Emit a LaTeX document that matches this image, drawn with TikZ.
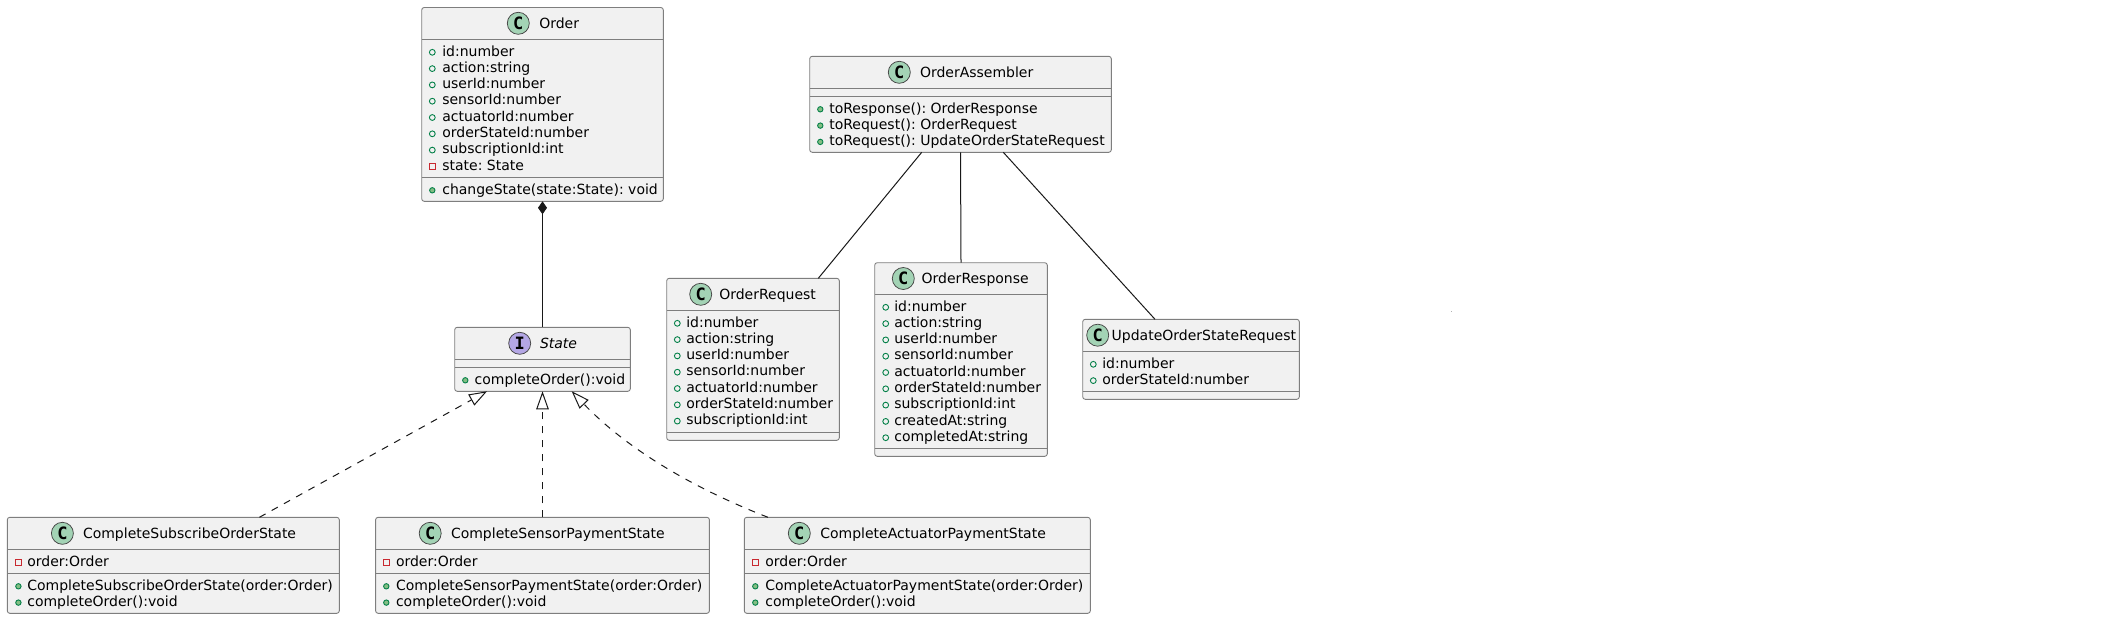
\documentclass[tikz,border=0pt]{standalone}
\usepackage{fontspec}
\setmainfont{DejaVu Sans}
\newfontfamily\glyphfont{DejaVu Sans Mono}[BoldFont=* Bold]
\usetikzlibrary{arrows.meta}
\definecolor{boxfill}{HTML}{F1F1F1}
\definecolor{ink}{HTML}{181818}
\definecolor{frame}{HTML}{7E7E7E}
\definecolor{cfill}{HTML}{A3D3B5}
\definecolor{ifill}{HTML}{B4A7E5}
\definecolor{publine}{HTML}{038048}
\definecolor{pubfill}{HTML}{84BE84}
\definecolor{privline}{HTML}{C82930}
\tikzset{
  umlbox/.style={draw=frame,fill=boxfill,line width=.9pt,rounded corners=2.5pt,inner sep=0pt,outer sep=0pt,anchor=north west},
  sepline/.style={draw=frame,line width=.9pt},
  labeltext/.style={inner sep=0pt,outer sep=0pt,anchor=base west,font=\fontsize{14}{16}\selectfont\frenchspacing,text=black},
  badge/.style={circle,draw=ink!80,line width=.75pt,minimum size=22pt,inner sep=0pt,outer sep=0pt},
  badgetext/.style={inner sep=0pt,outer sep=0pt,font=\glyphfont\bfseries\fontsize{17}{18}\selectfont,text=black},
  pubfield/.style={draw=publine,line width=.9pt,fill=none},
  pubmethod/.style={draw=publine,line width=.9pt,fill=pubfill},
  privfield/.style={draw=privline,line width=.9pt,fill=none},
  assoc/.style={draw=ink,line width=1pt},
  realize/.style={draw=ink,line width=1pt,dash pattern=on 7pt off 7pt,-{Triangle[open,length=18pt,width=12.5pt,fill=white]}},
  compose/.style={draw=ink,line width=1pt,{Diamond[length=13pt,width=9pt,fill=ink]}-},
}
% name, x1, ytop, x2, ybottom, headerline, separator
\newcommand{\classframe}[7]{%
  \pgfmathsetmacro{\bw}{#4-#2}\pgfmathsetmacro{\bh}{#5-#3}%
  \node[umlbox,minimum width=\bw pt,minimum height=\bh pt] (#1) at (#2,#3) {};
  \draw[sepline] (#2,#6) -- (#4,#6);
  \draw[sepline] (#2,#7) -- (#4,#7);
}
% name, cx, cy, fill, letter, title x, title
\newcommand{\classtitle}[8]{%
  \node[badge,fill=#4] (#1-badge) at (#2,#3) {};
  \node[badgetext] (#1-letter) at (#2,#3) {#5};
  \node[labeltext] (#1-title) at (#6,#3+5) {#8#7};
}
\newcounter{rowc}
% kind-x, text-x, baseline, text
\newcommand{\fieldrow}[4]{\stepcounter{rowc}%
  \draw[pubfield] (#1,#3-3.7) circle (2.9pt);
  \node[labeltext] (row\arabic{rowc}) at (#2,#3) {#4};
}
\newcommand{\methodrow}[4]{\stepcounter{rowc}%
  \draw[pubmethod] (#1,#3-3.7) circle (2.7pt);
  \node[labeltext] (row\arabic{rowc}) at (#2,#3) {#4};
}
\newcommand{\privrow}[4]{\stepcounter{rowc}%
  \draw[privfield] (#1-2.9,#3-6.6) rectangle (#1+2.9,#3-.8);
  \node[labeltext] (row\arabic{rowc}) at (#2,#3) {#4};
}
\begin{document}
\begin{tikzpicture}[x=1pt,y=-1pt]
\useasboundingbox (0,0) rectangle (2116,619);

% Order
\classframe{order}{421.7}{7.5}{663.3}{201.3}{39.5}{177.7}
\classtitle{order}{518.3}{23.3}{cfill}{C}{539.3}{Order}{}
\fieldrow{432.3}{442.3}{56}{id:number}
\fieldrow{432.3}{442.3}{72.3}{action:string}
\fieldrow{432.3}{442.3}{88.6}{userId:number}
\fieldrow{432.3}{442.3}{104.9}{sensorId:number}
\fieldrow{432.3}{442.3}{121.2}{actuatorId:number}
\fieldrow{432.3}{442.3}{137.5}{orderStateId:number}
\fieldrow{432.3}{442.3}{153.8}{subscriptionId:int}
\privrow{432.3}{442.3}{170.1}{state: State}
\methodrow{432.3}{442.3}{194}{changeState(state:State): void}

% State
\classframe{state}{454.7}{327.3}{630.3}{391.3}{359.3}{367.3}
\classtitle{state}{519.7}{343.3}{ifill}{I}{540}{State}{\itshape}
\methodrow{465.3}{474.7}{384}{completeOrder():void}

% CompleteSubscribeOrderState
\classframe{subscribe}{7.3}{517.3}{339.3}{613.3}{549.3}{573.3}
\classtitle{subscribe}{62.4}{533.3}{cfill}{C}{83}{CompleteSubscribeOrderState}{}
\privrow{18.4}{27.3}{566}{order:Order}
\methodrow{18.4}{27.3}{590}{CompleteSubscribeOrderState(order:Order)}
\methodrow{18.4}{27.3}{606.3}{completeOrder():void}

% CompleteSensorPaymentState
\classframe{sensor}{375.6}{517.3}{709.4}{613.3}{549.3}{573.3}
\classtitle{sensor}{430.2}{533.3}{cfill}{C}{451}{CompleteSensorPaymentState}{}
\privrow{386.3}{396}{566}{order:Order}
\methodrow{386.3}{396}{590}{CompleteSensorPaymentState(order:Order)}
\methodrow{386.3}{396}{606.3}{completeOrder():void}

% CompleteActuatorPaymentState
\classframe{actuator}{744.3}{517.3}{1090.3}{613.3}{549.3}{573.3}
\classtitle{actuator}{799.3}{533.3}{cfill}{C}{820.3}{CompleteActuatorPaymentState}{}
\privrow{755.3}{765.3}{566}{order:Order}
\methodrow{755.3}{765.3}{590}{CompleteActuatorPaymentState(order:Order)}
\methodrow{755.3}{765.3}{606.3}{completeOrder():void}

% OrderAssembler
\classframe{assembler}{809.7}{56.3}{1111.3}{152.3}{88.3}{96.3}
\classtitle{assembler}{899.3}{72.3}{cfill}{C}{920}{OrderAssembler}{}
\methodrow{820.3}{829.3}{113}{toResponse(): OrderResponse}
\methodrow{820.3}{829.3}{129.3}{toRequest(): OrderRequest}
\methodrow{820.3}{829.3}{145.6}{toRequest(): UpdateOrderStateRequest}

% OrderRequest
\classframe{request}{666.7}{278.3}{839.3}{440.3}{310.5}{432.3}
\classtitle{request}{700.7}{294.3}{cfill}{C}{719.3}{OrderRequest}{}
\fieldrow{677.3}{686.3}{327}{id:number}
\fieldrow{677.3}{686.3}{343.3}{action:string}
\fieldrow{677.3}{686.3}{359.6}{userId:number}
\fieldrow{677.3}{686.3}{375.9}{sensorId:number}
\fieldrow{677.3}{686.3}{392.2}{actuatorId:number}
\fieldrow{677.3}{686.3}{408.5}{orderStateId:number}
\fieldrow{677.3}{686.3}{424.8}{subscriptionId:int}

% OrderResponse
\classframe{response}{874.7}{262.7}{1047.3}{456.3}{294.3}{448.3}
\classtitle{response}{903.3}{278.5}{cfill}{C}{921.7}{OrderResponse}{}
\fieldrow{885.7}{894.3}{311}{id:number}
\fieldrow{885.7}{894.3}{327.3}{action:string}
\fieldrow{885.7}{894.3}{343.6}{userId:number}
\fieldrow{885.7}{894.3}{359.9}{sensorId:number}
\fieldrow{885.7}{894.3}{376.2}{actuatorId:number}
\fieldrow{885.7}{894.3}{392.5}{orderStateId:number}
\fieldrow{885.7}{894.3}{408.8}{subscriptionId:int}
\fieldrow{885.7}{894.3}{425.1}{createdAt:string}
\fieldrow{885.7}{894.3}{441.4}{completedAt:string}

% UpdateOrderStateRequest
\classframe{update}{1082.7}{319.3}{1299.3}{399.3}{351.3}{391.3}
\classtitle{update}{1097.7}{335.2}{cfill}{C}{1111.7}{UpdateOrderStateRequest}{}
\fieldrow{1093.3}{1102.3}{368}{id:number}
\fieldrow{1093.3}{1102.3}{384.3}{orderStateId:number}

% connectors
\draw[compose] (order.south) -- (state.north);
\draw[realize] ([xshift=86.1pt]subscribe.north) -- ([xshift=-55.5pt]state.south);
\draw[realize] (sensor.north) -- (state.south);
\draw[realize] ([xshift=-149.3pt]actuator.north) .. controls (690,487) and (625,447) .. ([xshift=29.2pt]state.south);
\draw[assoc] ([xshift=-38.8pt]assembler.south) -- ([xshift=65.3pt]request.north);
\draw[assoc] (assembler.south) -- (response.north);
\draw[assoc] ([xshift=42.8pt]assembler.south) -- ([xshift=-36pt]update.north);

% stray speck
\fill[gray!60] (1451.2,310.9) rectangle (1452.2,311.7);
\end{tikzpicture}
\end{document}
